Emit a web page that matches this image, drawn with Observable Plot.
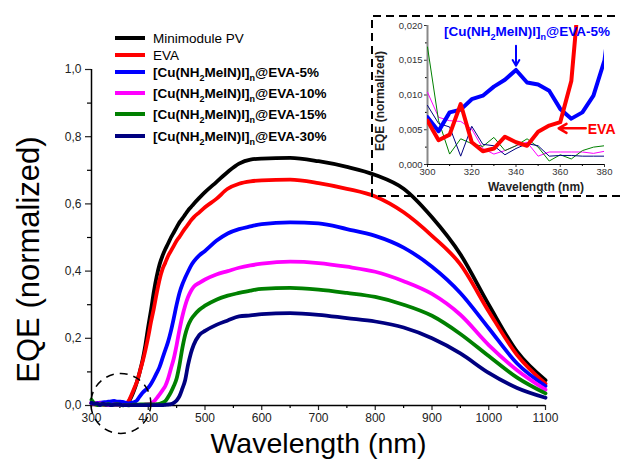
<!DOCTYPE html>
<html><head><meta charset="utf-8">
<script src="https://cdn.jsdelivr.net/npm/d3@7"></script>
<script src="https://cdn.jsdelivr.net/npm/@observablehq/plot@0.6"></script>
<style>
body{margin:0;background:#fff;font-family:"Liberation Sans",Arial,sans-serif;}
#wrap{position:relative;width:624px;height:468px;overflow:hidden;background:#fff;}
#wrap > svg{position:absolute;left:0;top:0;}
#insetBox{position:absolute;left:372px;top:16px;}
#dash{position:absolute;left:0;top:0;pointer-events:none;}
.leg{position:absolute;left:115px;font-size:13.5px;color:#000;white-space:nowrap;line-height:16px;}
.leg.b{font-weight:bold;}
.sw{display:inline-block;width:30px;height:4px;vertical-align:middle;margin-right:8px;position:relative;top:-1px;}
sub{font-size:9px;vertical-align:-4px;line-height:0;}
#ann{position:absolute;left:444px;top:24px;font-size:13.5px;font-weight:bold;color:#0000ff;line-height:16px;white-space:nowrap;}
</style></head><body><div id="wrap"></div>
<script>
// ---------- data ----------
const wavelength = [300,305,310,315,320,325,330,335,340,345,350,355,360,365,370,375,380,
  385,390,395,400,405,410,415,420,425,430,435,440,445,450,455,460,465,470,475,480,
  490,500,520,540,560,580,600,650,700,750,800,850,900,950,1000,1050,1100];

const minimodulePV = [0.006,0.005,0.005,0.005,0.005,0.004,0.004,0.004,0.004,0.004,0.004,0.005,0.005,0.01,0.025,0.045,0.07,
  0.1,0.135,0.18,0.235,0.285,0.34,0.385,0.42,0.445,0.465,0.482,0.5,0.515,0.53,0.545,0.556,0.568,0.58,0.59,0.6,
  0.618,0.635,0.665,0.695,0.72,0.732,0.735,0.737,0.727,0.71,0.686,0.645,0.56,0.45,0.3,0.16,0.075];

const eva = [0.0063,0.0035,0.0043,0.0087,0.0032,0.0019,0.0023,0.004,0.0032,0.0027,0.0047,0.0056,0.0061,0.012,0.03,0.05,0.07,
  0.1,0.13,0.165,0.205,0.25,0.29,0.335,0.375,0.405,0.425,0.445,0.46,0.475,0.49,0.502,0.515,0.527,0.538,0.55,0.56,
  0.575,0.59,0.615,0.645,0.66,0.667,0.67,0.672,0.662,0.645,0.622,0.575,0.505,0.42,0.28,0.15,0.065];

const eva5 = [0.0068,0.0048,0.0075,0.0079,0.0094,0.0099,0.0112,0.0122,0.0136,0.0118,0.0115,0.0106,0.008,0.0066,0.0075,0.0099,0.015,
  0.027,0.038,0.046,0.053,0.065,0.08,0.097,0.115,0.14,0.165,0.19,0.222,0.26,0.3,0.335,0.36,0.38,0.398,0.415,0.428,
  0.447,0.46,0.49,0.512,0.525,0.533,0.54,0.545,0.542,0.525,0.505,0.47,0.413,0.335,0.23,0.125,0.058];

const eva10 = [0.0104,0.0068,0.0063,0.0062,0.0051,0.0023,0.0015,0.002,0.0027,0.0032,0.0012,0.0018,0.0018,0.0018,0.0018,0.0016,0.0019,
  0.002,0.002,0.003,0.004,0.006,0.012,0.022,0.033,0.045,0.058,0.08,0.11,0.14,0.18,0.225,0.265,0.297,0.322,0.34,0.353,
  0.365,0.375,0.39,0.4,0.41,0.417,0.422,0.428,0.424,0.413,0.398,0.37,0.332,0.27,0.18,0.105,0.047];

const eva15 = [0.0169,0.0063,0.0015,0.0037,0.003,0.0026,0.0039,0.002,0.0027,0.0037,0.0025,0.0005,0.0014,0.0008,0.002,0.0025,0.0027,
  0.003,0.003,0.003,0.003,0.003,0.003,0.004,0.005,0.008,0.013,0.025,0.04,0.058,0.08,0.12,0.17,0.21,0.237,0.255,0.267,
  0.285,0.297,0.315,0.327,0.335,0.342,0.347,0.35,0.345,0.335,0.323,0.3,0.267,0.213,0.147,0.083,0.036];

const eva30 = [0.0085,0.0059,0.0054,0.0012,0.0055,0.0029,0.0027,0.0014,0.0023,0.003,0.0027,0.0012,0.0013,0.0013,0.0012,0.0012,0.0012,
  0.001,0.001,0.001,0.001,0.001,0.001,0.001,0.001,0.001,0.002,0.003,0.004,0.008,0.015,0.028,0.05,0.075,0.12,0.155,0.18,
  0.21,0.222,0.24,0.253,0.265,0.268,0.272,0.275,0.27,0.26,0.25,0.232,0.2,0.155,0.097,0.052,0.023];

const seriesKeys = ["Minimodule PV","EVA","EVA-5%","EVA-10%","EVA-15%","EVA-30%"];
const seriesColors = ["#000000","#ff0000","#0000ff","#ff00ff","#008000","#000080"];
const seriesValues = [minimodulePV, eva, eva5, eva10, eva15, eva30];
const legendLabels = ["Minimodule PV","EVA",
  "[Cu(NH<sub>2</sub>MeIN)I]<sub>n</sub>@EVA-5%","[Cu(NH<sub>2</sub>MeIN)I]<sub>n</sub>@EVA-10%",
  "[Cu(NH<sub>2</sub>MeIN)I]<sub>n</sub>@EVA-15%","[Cu(NH<sub>2</sub>MeIN)I]<sub>n</sub>@EVA-30%"];

const xTicks = [300,400,500,600,700,800,900,1000,1100];
const xMinorTicks = [350,450,550,650,750,850,950,1050];
const yTicks = [0,0.2,0.4,0.6,0.8,1.0];
const yMinorTicks = [0.1,0.3,0.5,0.7,0.9];
const insetXTicks = [300,320,340,360,380];
const insetXMinor = [310,330,350,370];
const insetYTicks = [0,0.005,0.01,0.015,0.02];
const insetYMinor = [0.0025,0.0075,0.0125,0.0175];

// annotation anchors (data coordinates)
const circleAnchor = [{x:351.7, y:0.006}];
const blueArrow = [{x1:340, y1:0.0171, x2:340, y2:0.0142}];
const redArrow = [{x1:371.5, y1:0.0052, x2:359.3, y2:0.0052}];
const evaLabel = [{x:378.7, y:0.00505, t:"EVA"}];

// ---------- build ----------
const rows = [];
seriesKeys.forEach((k,i) => seriesValues[i].forEach((v,j) => rows.push({series:k, wl:wavelength[j], v})));
const insetRows = rows.filter(d => d.wl <= 385);
const colorScale = {domain: seriesKeys, range: seriesColors};
const fmt1 = d => d.toFixed(1).replace(".", ",");
const fmt3 = d => d.toFixed(3).replace(".", ",");
const font = "'Liberation Sans', Arial, sans-serif";

const main = Plot.plot({
  width: 624, height: 468,
  marginLeft: 91, marginRight: 79, marginTop: 69, marginBottom: 63,
  style: {fontFamily: font, background: "transparent", overflow: "visible"},
  x: {domain: [300, 1100]},
  y: {domain: [0, 1]},
  color: colorScale,
  marks: [
    Plot.axisX({ticks: xTicks, tickSize: 5, tickPadding: 3, fontSize: 12, tickFormat: d => String(d), label: null, color: "#222", strokeWidth: 1.2}),
    Plot.axisX({ticks: xMinorTicks, tickSize: 3, tickFormat: () => "", label: null, strokeWidth: 1.2}),
    Plot.axisY({ticks: yTicks, tickSize: 6, tickPadding: 4, fontSize: 12, tickFormat: fmt1, label: null, color: "#222", strokeWidth: 1.2}),
    Plot.axisY({ticks: yMinorTicks, tickSize: 4, tickFormat: () => "", label: null, strokeWidth: 1.2}),
    Plot.ruleY([0], {stroke: "#000", strokeWidth: 1.5}),
    Plot.ruleX([300], {stroke: "#000", strokeWidth: 1.5}),
    Plot.line(rows, {x: "wl", y: "v", z: "series", stroke: "series", strokeWidth: 3.8, curve: "monotone-x"}),
    Plot.dot(circleAnchor, {x: "x", y: "y", r: 30, stroke: "#000", strokeWidth: 1.5, strokeDasharray: "8,6", fill: "none"}),
    Plot.text(["Wavelength (nm)"], {text: d => d, frameAnchor: "bottom", textAnchor: "middle", dy: 47, fontSize: 28.5, fill: "#000"}),
    Plot.text(["EQE (normalized)"], {text: d => d, frameAnchor: "left", textAnchor: "middle", rotate: -90, dx: -62, dy: 22, fontSize: 31, fill: "#000"})
  ]
});

const inset = Plot.plot({
  width: 252, height: 182,
  marginLeft: 55, marginRight: 20, marginTop: 9, marginBottom: 34,
  style: {fontFamily: font, background: "transparent", overflow: "visible"},
  x: {domain: [300, 380]},
  y: {domain: [0, 0.02]},
  color: colorScale,
  marks: [
    Plot.axisX({ticks: insetXTicks, tickSize: 3, tickPadding: 1, fontSize: 9.5, tickFormat: d => String(d), label: null, color: "#333"}),
    Plot.axisX({ticks: insetXMinor, tickSize: 2, tickFormat: () => "", label: null}),
    Plot.axisY({ticks: insetYTicks, tickSize: 3, tickPadding: 2, fontSize: 9.5, tickFormat: fmt3, label: null, color: "#333"}),
    Plot.axisY({ticks: insetYMinor, tickSize: 2, tickFormat: () => "", label: null}),
    Plot.ruleY([0], {stroke: "#000", strokeWidth: 1}),
    Plot.ruleX([300], {stroke: "#888", strokeWidth: 2}),
    Plot.line(insetRows.filter(d => d.series === "EVA-15%" || d.series === "EVA-10%" || d.series === "EVA-30%"),
      {x: "wl", y: "v", z: "series", stroke: "series", strokeWidth: 1, clip: true}),
    Plot.line(insetRows.filter(d => d.series === "EVA-5%"), {x: "wl", y: "v", stroke: "series", strokeWidth: 4, clip: true}),
    Plot.line(insetRows.filter(d => d.series === "EVA"), {x: "wl", y: "v", stroke: "series", strokeWidth: 4, clip: true}),
    Plot.arrow(blueArrow, {x1: "x1", y1: "y1", x2: "x2", y2: "y2", stroke: "#0000ff", strokeWidth: 2, headLength: 7}),
    Plot.arrow(redArrow, {x1: "x1", y1: "y1", x2: "x2", y2: "y2", stroke: "#ff0000", strokeWidth: 2.5, headLength: 7}),
    Plot.text(evaLabel, {x: "x", y: "y", text: "t", fill: "#ff0000", fontSize: 14, fontWeight: "bold"}),
    Plot.text(["Wavelength (nm)"], {text: d => d, frameAnchor: "bottom", textAnchor: "middle", dx: 20, dy: 26, fontSize: 12, fontWeight: "bold", fill: "#222"}),
    Plot.text(["EQE (normalized)"], {text: d => d, frameAnchor: "left", textAnchor: "middle", rotate: -90, dx: -47, dy: 6, fontSize: 12, fontWeight: "bold", fill: "#222"})
  ]
});

const wrap = document.getElementById("wrap");
wrap.appendChild(main);
const box = document.createElement("div");
box.id = "insetBox";
box.appendChild(inset);
wrap.appendChild(box);

// dashed inset frame
const dash = d3.select(wrap).append("svg").attr("id", "dash").attr("width", 624).attr("height", 468);
dash.append("path").attr("d", "M615,16H372V196H624").attr("fill", "none")
  .attr("stroke", "#000").attr("stroke-width", 2).attr("stroke-dasharray", "8,5");

// legend
const legendY = [40, 57, 74, 95, 116, 138];
seriesKeys.forEach((k, i) => {
  const div = document.createElement("div");
  div.className = "leg" + (i >= 2 ? " b" : "");
  div.style.top = (legendY[i] - 9) + "px";
  div.innerHTML = `<span class="sw" style="background:${seriesColors[i]}"></span>${legendLabels[i]}`;
  wrap.appendChild(div);
});

// inset annotation label
const ann = document.createElement("div");
ann.id = "ann";
ann.innerHTML = "[Cu(NH<sub>2</sub>MeIN)I]<sub>n</sub>@EVA-5%";
wrap.appendChild(ann);
</script></body></html>
